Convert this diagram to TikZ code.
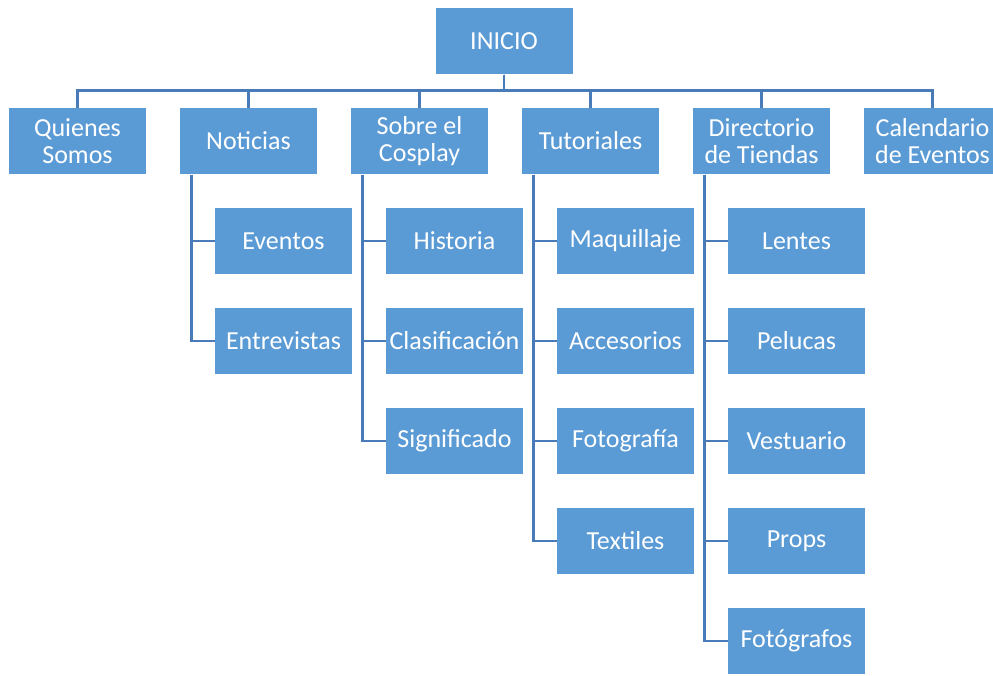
\documentclass[tikz,border=0pt]{standalone}
\usepackage{fontspec}
\setmainfont{Carlito}
\usetikzlibrary{positioning,calc}
\definecolor{cajaazul}{RGB}{91,155,213}
\definecolor{lineaazul}{RGB}{72,123,183}

\begin{document}
\begin{tikzpicture}[x=1pt,y=-1pt,node distance=33pt,
	caja/.style={rectangle,fill=cajaazul,draw=white,line width=.8pt,text=white,
		minimum width=138pt,minimum height=67pt,inner sep=0pt,outer sep=0pt,align=center,
		font=\fontsize{26}{27}\selectfont},
	linea/.style={draw=lineaazul,line width=2.5pt}]
\useasboundingbox (0,0) rectangle (993,675);
% raiz y primer nivel
\node [caja] (inicio) at (504,41) {INICIO};
\node [caja] (n1) at (77.5,141) {Quienes\\Somos};
\node [caja,right=of n1] (n2) {Noticias};
\node [caja,right=of n2] (n3) {Sobre el\\Cosplay};
\node [caja,right=of n3] (n4) {Tutoriales};
\node [caja,right=of n4] (n5) {Directorio\\de Tiendas};
\node [caja,right=of n5] (n6) {Calendario\\de Eventos};
% segundo nivel
\node [caja] (n2a) at ($(n2.south)+(35,66.5)$) {Eventos};
\node [caja,below=of n2a] (n2b) {Entrevistas};
\node [caja] (n3a) at ($(n3.south)+(35,66.5)$) {Historia};
\node [caja,below=of n3a] (n3b) {Clasificación};
\node [caja,below=of n3b] (n3c) {Significado};
\node [caja] (n4a) at ($(n4.south)+(35,66.5)$) {Maquillaje};
\node [caja,below=of n4a] (n4b) {Accesorios};
\node [caja,below=of n4b] (n4c) {Fotografía};
\node [caja,below=of n4c] (n4d) {Textiles};
\node [caja] (n5a) at ($(n5.south)+(35,66.5)$) {Lentes};
\node [caja,below=of n5a] (n5b) {Pelucas};
\node [caja,below=of n5b] (n5c) {Vestuario};
\node [caja,below=of n5c] (n5d) {Props};
\node [caja,below=of n5d] (n5e) {Fotógrafos};
% conectores
\foreach \n in {n1,n2,n3,n4,n5,n6}
	\draw [linea] (inicio.south) -- ++(0,16) -| (\n.north);
\foreach \p/\hijos in {n2/{n2a,n2b},n3/{n3a,n3b,n3c},n4/{n4a,n4b,n4c,n4d},n5/{n5a,n5b,n5c,n5d,n5e}}
	\foreach \h in \hijos
		\draw [linea] ([xshift=12pt]\p.south west) |- (\h.west);
\end{tikzpicture}
\end{document}
